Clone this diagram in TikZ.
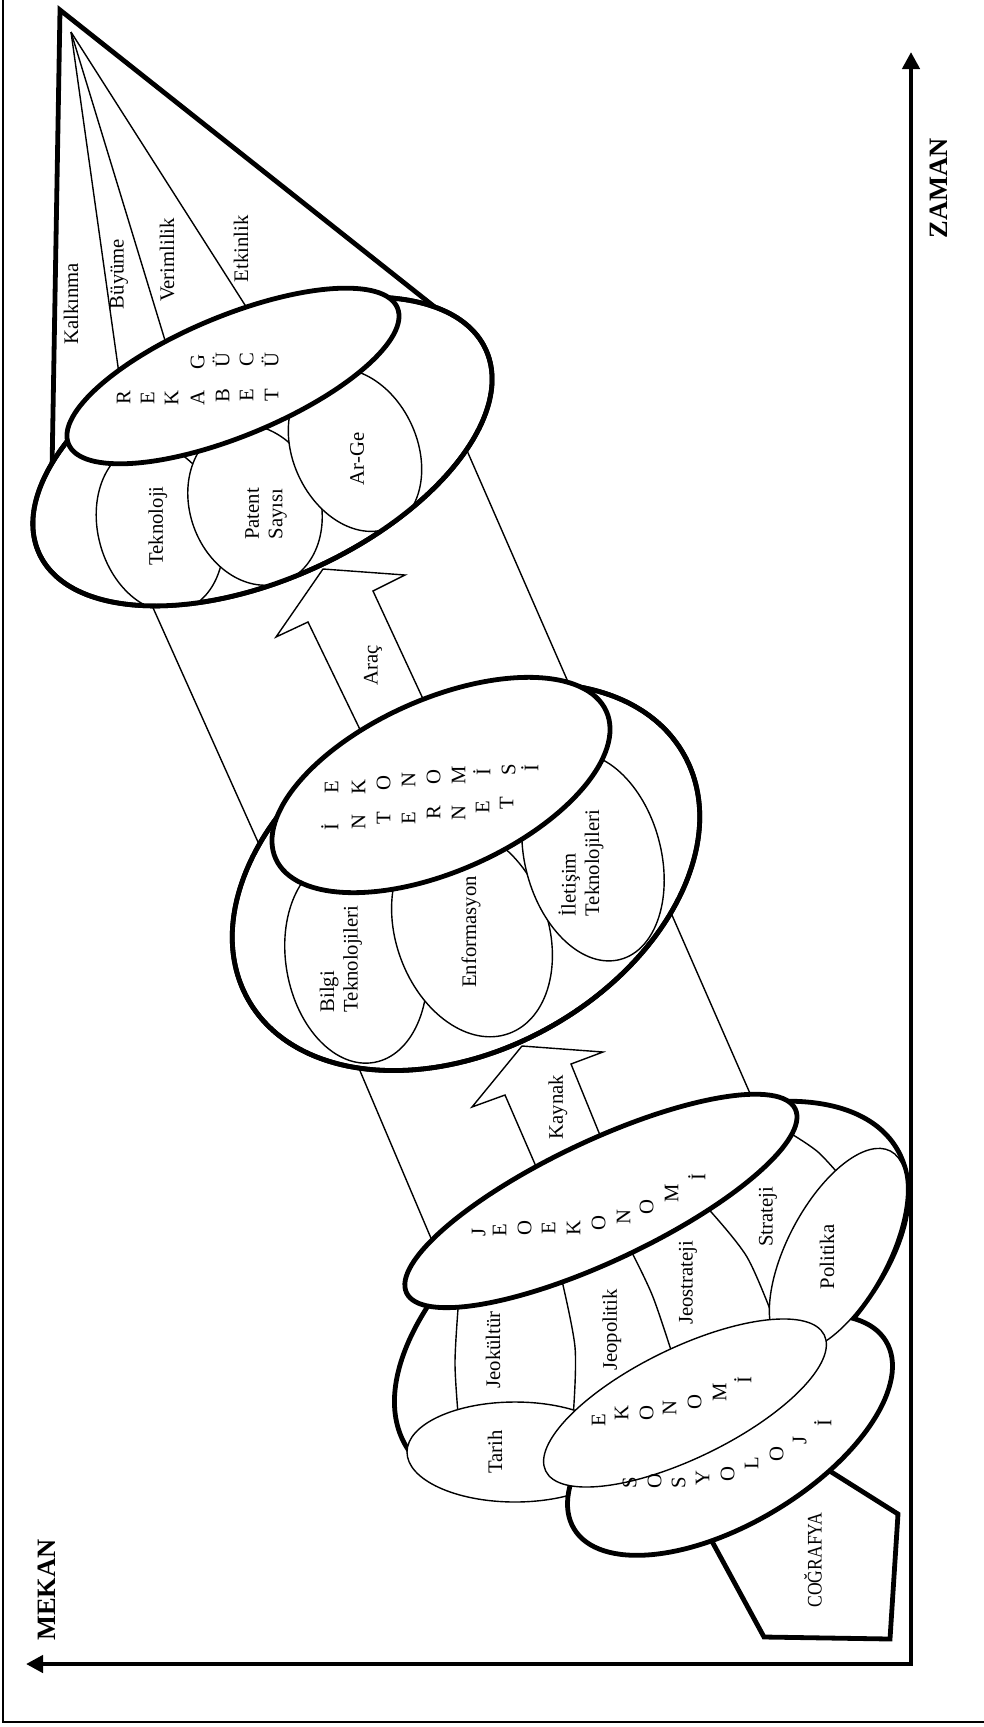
\documentclass[tikz,border=0pt]{standalone}
\usepackage{fontspec}
\setmainfont{Liberation Serif}
\usetikzlibrary{arrows.meta}
\newcommand{\lbf}{\fontsize{20.7}{23.5}\selectfont}
\newcommand{\axf}{\fontsize{26.5}{30}\selectfont\bfseries}
\begin{document}
\begin{tikzpicture}[x=1pt,y=-1pt,
 thk/.style={line width=4.8pt},
 thn/.style={line width=1.4pt},
 wthk/.style={thk,fill=white},
 wthn/.style={thn,fill=white},
 lbl/.style={rotate=90,font=\lbf,inner sep=0pt},
 lt/.style={rotate=90,font=\lbf,inner sep=0pt,text height=0.66em,text depth=0pt}]
\useasboundingbox (0,0) rectangle (984,1727);
% frame
\draw[line width=2.6pt] (3,0) -- (3,1722) -- (984,1722);
% axes
\coordinate (ax0) at (911,1664);
\coordinate (axT) at (911,52);
\coordinate (axL) at (26,1664);
\draw[line width=4.6pt,line join=miter,{Triangle[length=17pt,width=17pt]}-{Triangle[length=17pt,width=17pt]}] (axL) -- (ax0) -- (axT);
\node[font=\axf,rotate=90] (zaman) at (939,188) {ZAMAN};
\node[font=\axf,rotate=90] (mekan) at (47,1590) {MEKAN};
% cone lines and rays
\coordinate (apex) at (60,10);
\coordinate (rayO) at (71,32);
\draw[thk,line join=miter] (52,470) -- (apex) -- (441,312);
\draw[thn] (rayO) -- (121,388);
\draw[thn] (rayO) -- (171,360);
\draw[thn] (rayO) -- (252,316);
% connectors
\draw[thn] (150,601) -- (262,851);
\draw[thn] (465,446) -- (572,691);
\draw[thn] (355,1059) -- (436,1250);
\draw[thn] (668,906) -- (752,1098);
% arrows
\draw[thn,line join=miter] (367,744) -- (308,622) -- (276,637) -- (323,569) -- (405,575) -- (373,591) -- (430,714);
\draw[thn,line join=miter] (541,1178) -- (505,1095) -- (472,1107) -- (522,1046) -- (603,1052) -- (571,1064) -- (604,1145);
\node[lbl] (arac) at (373,665) {Araç};
\node[lbl] (kay) at (558,1107) {Kaynak};
% ===== cone =====
\coordinate (O1c) at (262.5,451.5);
\draw[wthk,rotate around={24.5:(O1c)}] (O1c) ellipse [x radius=245.5, y radius=127.6];
\begin{scope}
\clip[rotate around={24.5:(O1c)}] (O1c) ellipse [x radius=245.5, y radius=127.6];
\draw[wthn,rotate around={15:(160,528)}] (160,528) ellipse [x radius=62, y radius=85];
\draw[wthn,rotate around={20:(255,505)}] (255,505) ellipse [x radius=65, y radius=82];
\draw[wthn,rotate around={25:(355,450)}] (355,450) ellipse [x radius=62, y radius=85];
\end{scope}
\draw[thk,rotate around={24.5:(O1c)}] (O1c) ellipse [x radius=245.5, y radius=127.6];
\coordinate (I1c) at (233,376);
\draw[wthk,rotate around={22.5:(I1c)}] (I1c) ellipse [x radius=178, y radius=60];
\foreach \c/\x/\y [count=\i] in {R/127/398, E/151/398, K/175/398, A/201/398, B/226/396, E/250/395, T/275/395}
  \node[lt] (rk\i) at (\x,\y) {\c};
\foreach \c/\x/\y [count=\i] in {G/201/362, Ü/226/360, C/250/360, Ü/275/360}
  \node[lt] (gc\i) at (\x,\y) {\c};
\node[lbl] (kalk) at (71,304) {Kalkınma};
\node[lbl] (buy) at (119,274) {Büyüme};
\node[lbl] (ver) at (167,260) {Verimlilik};
\node[lbl] (etk) at (241,249) {Etkinlik};
\node[lbl] (tek) at (158,526) {Teknoloji};
\node[lbl,align=center] (pat) at (266,514) {Patent\\Sayısı};
\node[lbl] (arge) at (357,459) {Ar-Ge};
% ===== middle =====
\coordinate (O2c) at (466,877);
\draw[wthk,rotate around={29.3:(O2c)}] (O2c) ellipse [x radius=250, y radius=172];
\begin{scope}
\clip[rotate around={29.3:(O2c)}] (O2c) ellipse [x radius=250, y radius=172];
\draw[wthn,rotate around={10:(356,960)}] (356,960) ellipse [x radius=70, y radius=104];
\draw[wthn,rotate around={20:(472,932)}] (472,932) ellipse [x radius=76, y radius=108];
\draw[wthn,rotate around={15:(593,857)}] (593,857) ellipse [x radius=68, y radius=106];
\end{scope}
\draw[thk,rotate around={29.3:(O2c)}] (O2c) ellipse [x radius=250, y radius=172];
\coordinate (I2c) at (441,785);
\draw[wthk,rotate around={24:(I2c)}] (I2c) ellipse [x radius=181, y radius=86];
\foreach \c/\x/\y [count=\i] in {İ/335/827, N/362/822, T/387/818, E/412/818, R/437/813, N/462/813, E/486/807, T/510/803}
  \node[lt] (in\i) at (\x,\y) {\c};
\foreach \c/\x/\y [count=\i] in {E/335/787, K/362/787, O/387/783, N/412/780, O/437/777, M/462/775, İ/487/772, S/512/770, İ/535/768}
  \node[lt] (ek\i) at (\x,\y) {\c};
\node[lbl,align=left] (bilgi) at (341,959) {Bilgi\\Teknolojileri};
\node[lbl] (enf) at (471,932) {Enformasyon};
\node[lbl,align=left] (ilet) at (581,863) {İletişim\\Teknolojileri};
% ===== bottom =====
\coordinate (O3c) at (651.5,1297.5);
\draw[wthk,rotate around={31.4:(O3c)}] (O3c) ellipse [x radius=287, y radius=149];
\draw[thn] plot[smooth] coordinates {(459,1296) (455,1363) (459,1425)};
\draw[thn] plot[smooth] coordinates {(559,1268) (575,1347) (573,1418)};
\draw[thn] plot[smooth] coordinates {(628,1245) (653,1297) (678,1372)};
\draw[thn] plot[smooth] coordinates {(703,1203) (747,1257) (778,1330)};
\draw[thn] plot[smooth] coordinates {(785,1130) (818,1152) (848,1185)};
\coordinate (I3c) at (601,1201);
\draw[wthk,rotate around={25.3:(I3c)}] (I3c) ellipse [x radius=215, y radius=60];
\draw[wthn] (515,1452) ellipse [x radius=108, y radius=50];
\draw[thk,fill=white,line join=miter] (708,1534) -- (764,1637) -- (890,1639) -- (898,1514) -- (825,1468) -- cycle;
\coordinate (SOc) at (730,1435);
\draw[wthk,rotate around={31:(SOc)}] (SOc) ellipse [x radius=182, y radius=88];
\coordinate (POc) at (838,1250);
\draw[wthn,rotate around={62:(POc)}] (POc) ellipse [x radius=112, y radius=50];
\coordinate (EKc) at (685,1403);
\draw[wthn,rotate around={26:(EKc)}] (EKc) ellipse [x radius=155, y radius=55];
\foreach \c/\x/\y [count=\i] in {J/482/1232, E/503/1230, O/528/1228, E/552/1228, K/577/1228, O/602/1223, N/627/1217, O/650/1207, M/675/1193, İ/702/1177}
  \node[lt] (je\i) at (\x,\y) {\c};
\foreach \c/\x/\y [count=\i] in {E/602/1420, K/625/1413, O/650/1413, N/673/1408, O/698/1402, M/723/1392, İ/748/1380}
  \node[lt] (eko\i) at (\x,\y) {\c};
\foreach \c/\x/\y [count=\i] in {S/633/1483, O/658/1481, S/682/1483, Y/706/1478, O/731/1474, L/755/1463, O/780/1454, J/803/1440, İ/828/1423}
  \node[lt] (so\i) at (\x,\y) {\c};
\node[lbl] (jk) at (493,1350) {Jeokültür};
\node[lbl] (jp) at (612,1330) {Jeopolitik};
\node[lbl] (js) at (688,1283) {Jeostrateji};
\node[lbl] (str) at (768,1217) {Strateji};
\node[lbl] (pol) at (827,1257) {Politika};
\node[lbl] (tar) at (495,1452) {Tarih};
\node[lbl] (cog) at (813,1560) {\scalebox{0.85}[1]{COĞRAFYA}};
\end{tikzpicture}
\end{document}
